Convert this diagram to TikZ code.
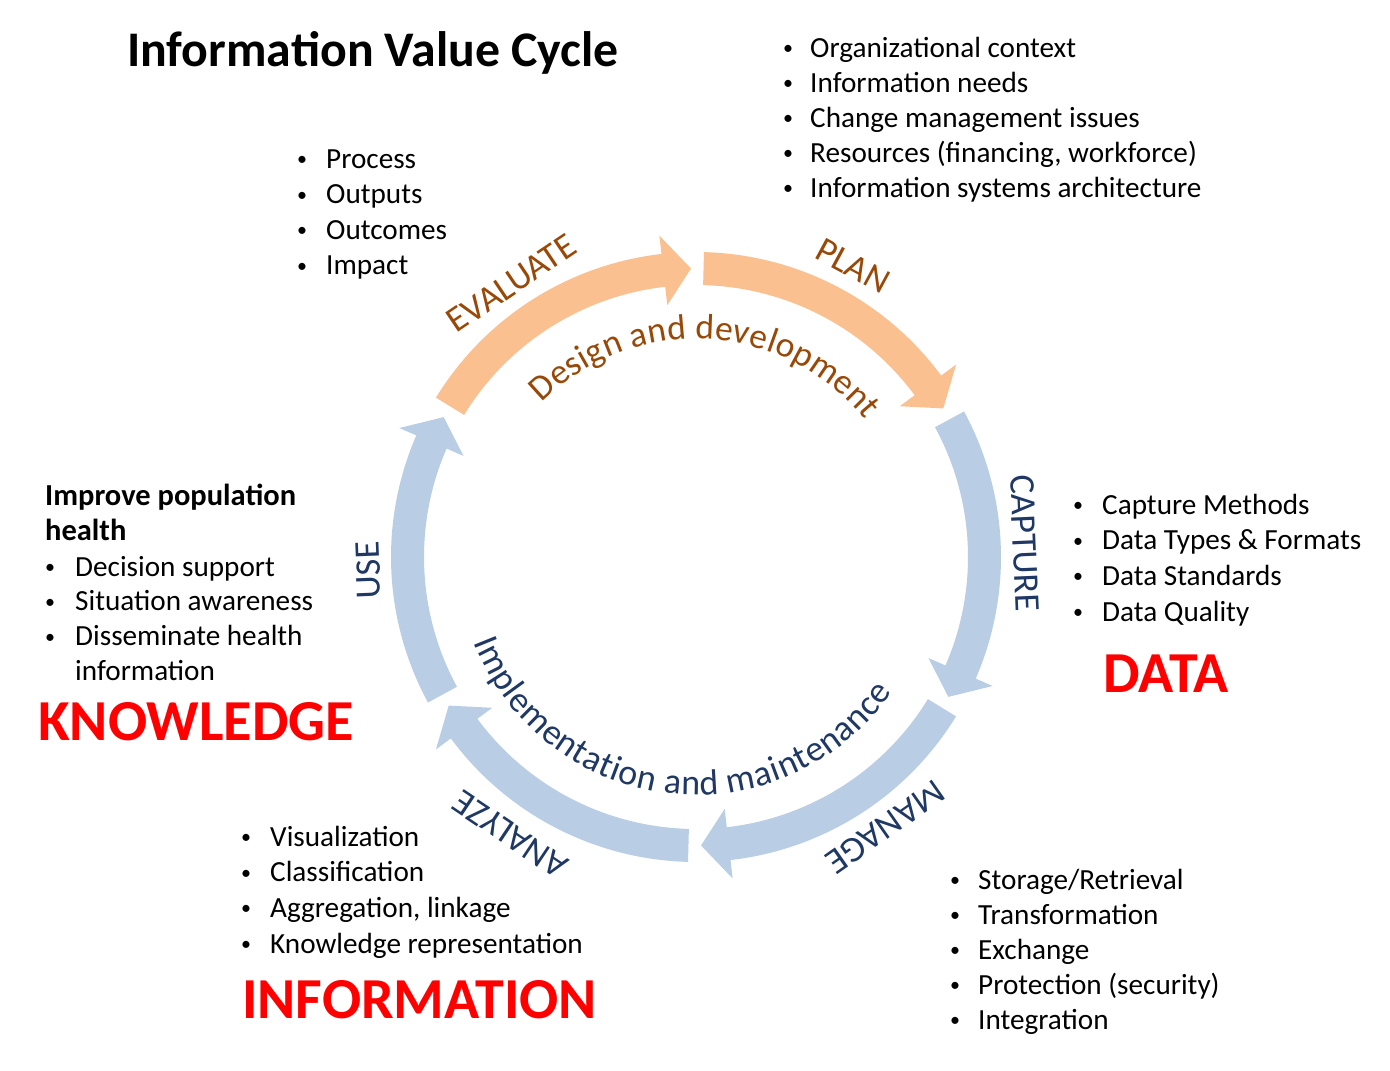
\documentclass[tikz,border=0pt]{standalone}
\usepackage{fontspec}
\setmainfont{Carlito}
\usetikzlibrary{decorations.text}

\definecolor{arrOrange}{HTML}{FAC090}
\definecolor{arrBlue}{HTML}{B9CDE5}
\definecolor{txtOrange}{HTML}{984807}
\definecolor{txtBlue}{HTML}{1F3864}
\definecolor{bigRed}{HTML}{FF0000}

% ring geometry (pt): outer, inner and middle radius, head half-width, head length (deg)
\newcommand{\cycRo}{305}
\newcommand{\cycRi}{272}
\newcommand{\cycRm}{288.5}
\newcommand{\cycHW}{35}
\newcommand{\cycHL}{5.5}

% one curved block arrow running clockwise from angle #1 (tail) to angle #2 (tip)
\newcommand{\cyclearrow}[3]{%
  \fill[#3] (#1:\cycRo) arc[start angle=#1, end angle={#2+\cycHL}, radius=\cycRo pt]
    -- ({#2+\cycHL}:{\cycRm+\cycHW}) -- (#2:\cycRm) -- ({#2+\cycHL}:{\cycRm-\cycHW})
    -- ({#2+\cycHL}:\cycRi) arc[start angle={#2+\cycHL}, end angle=#1, radius=\cycRi pt] -- cycle;}

% bulleted list: name, bullet x, text x, first baseline y, line pitch, items
\newcommand{\bulletlist}[6]{%
  \foreach \t [count=\i] in {#6} {
    \node[dot] (#1-b\i) at (#2, {-(#4) - (#5)*(\i-1)}) {\raisebox{2.6pt}{•}};
    \node[item] (#1-t\i) at (#3, {-(#4) - (#5)*(\i-1)}) {\t};
  }}

\tikzset{
  item/.style={anchor=base west, inner sep=0pt, font=\fontsize{29.2}{34}\selectfont},
  dot/.style={anchor=base, inner sep=0pt, font=\fontsize{20}{20}\selectfont},
  stage/.style={inner sep=0pt, text=txtBlue, font=\fontsize{36}{36}\selectfont},
  stageo/.style={stage, text=txtOrange},
  big/.style={anchor=base west, inner sep=0pt, text=bigRed, font=\fontsize{58}{58}\selectfont\bfseries},
}

\begin{document}
\begin{tikzpicture}[x=1pt, y=1pt]
  \fill[white] (0,0) rectangle (1390,-1071);
  \path[use as bounding box] (0,0) rectangle (1390,-1071);

  % title
  \node[anchor=base west, inner sep=0pt, font=\fontsize{49.8}{50}\selectfont\bfseries]
    (title) at (127,-66) {Information Value Cycle};

  % the cycle
  \begin{scope}[shift={(696,-557)}]
    \cyclearrow{148.5}{91}{arrOrange}
    \cyclearrow{88.5}{31}{arrOrange}
    \cyclearrow{28.5}{-29}{arrBlue}
    \cyclearrow{-31.5}{-89}{arrBlue}
    \cyclearrow{-91.5}{-149}{arrBlue}
    \cyclearrow{-151.5}{-209}{arrBlue}

    % stage names round the ring
    \node[stageo, rotate=34]    (evaluate) at (124:330)    {EVALUATE};
    \node[stageo, rotate=-28.3] (plan)     at (61.7:331)   {PLAN};
    \node[stage, rotate=-87.6]  (capture)  at (2.4:329)    {CAPTURE};
    \node[stage, rotate=-145]   (manage)   at (-55:330)    {MANAGE};
    \node[stage, rotate=-213.8] (analyze)  at (-123.8:334) {ANALYZE};
    \node[stage, rotate=92.3]   (use)      at (182.3:328)  {USE};

    % phase captions inside the ring
    \path[decorate, decoration={text along path, text align=fit to path,
        text color=txtOrange,
        text={|\fontsize{35.5}{35}\selectfont|Design and development}}]
      (135:218) arc[start angle=135, end angle=39, radius=218pt];
    \path[decorate, decoration={text along path, text align=fit to path,
        text color=txtBlue,
        text={|\fontsize{36}{36}\selectfont|Implementation and maintenance}}]
      (201:238) arc[start angle=201, end angle=325.5, radius=238pt];
  \end{scope}

  % planning topics
  \bulletlist{pl}{788}{810}{57}{35}{Organizational context, Information needs,
    Change management issues, {Resources (financing, workforce)},
    Information systems architecture}

  % evaluation topics
  \bulletlist{ev}{302}{326}{168}{35.6}{Process, Outputs, Outcomes, Impact}

  % use of information
  \node[item, font=\fontsize{30.5}{34}\selectfont\bfseries] (goal1) at (45,-505) {Improve population};
  \node[item, font=\fontsize{30.5}{34}\selectfont\bfseries] (goal2) at (45,-540) {health};
  \bulletlist{us}{50}{75}{576}{34.8}{Decision support, Situation awareness, Disseminate health}
  \node[item] (us-t4) at (75,-680) {information};
  \node[big] (knowledge) at (38,-740) {KNOWLEDGE};

  % data capture
  \bulletlist{ca}{1078}{1102}{514}{35.7}{Capture Methods, Data Types \& Formats,
    Data Standards, Data Quality}
  \node[big] (data) at (1103,-692) {DATA};

  % analysis
  \bulletlist{an}{246}{270}{846}{35.7}{Visualization, Classification,
    {Aggregation, linkage}, Knowledge representation}
  \node[big] (information) at (242,-1018) {INFORMATION};

  % data management
  \bulletlist{ma}{955}{978}{889}{35}{Storage/Retrieval, Transformation, Exchange,
    Protection (security), Integration}
\end{tikzpicture}
\end{document}
